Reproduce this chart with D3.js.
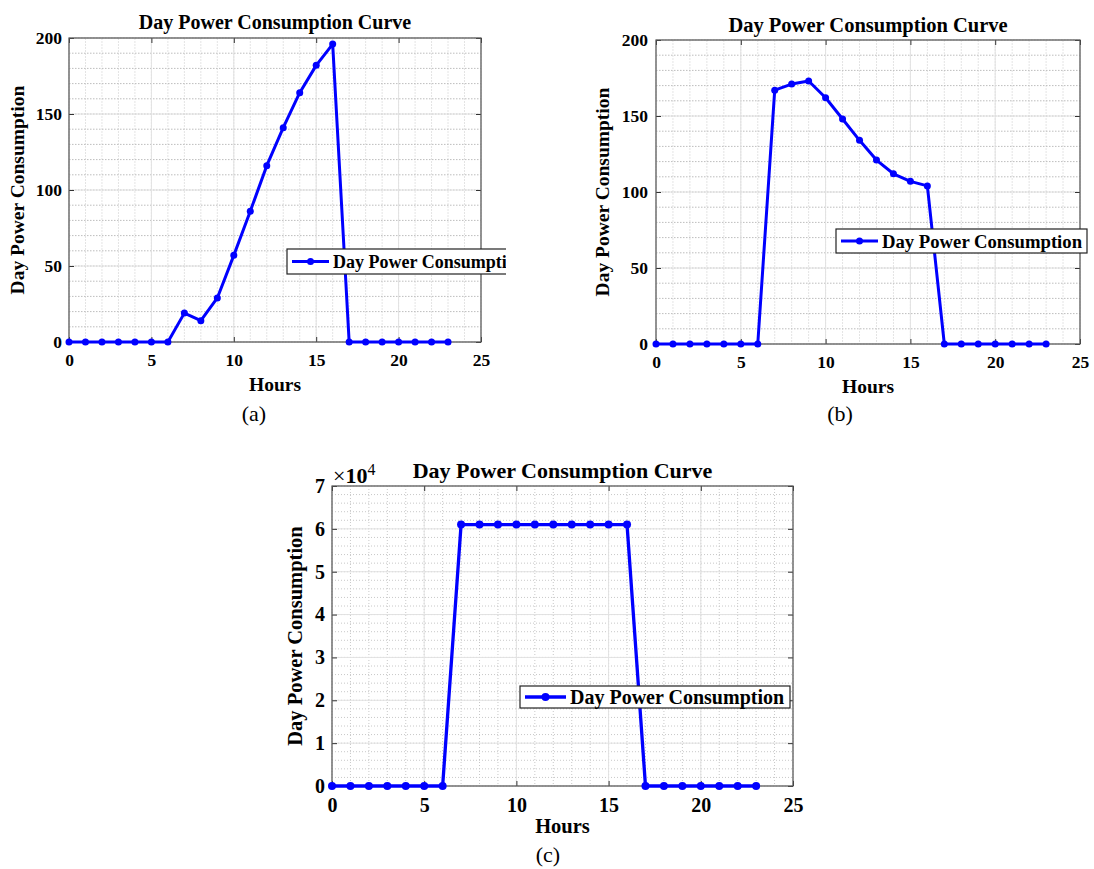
<!DOCTYPE html>
<html>
<head>
<meta charset="utf-8">
<script src="https://cdn.jsdelivr.net/npm/d3@7"></script>
<style>
  html, body { margin: 0; padding: 0; background: #fff; }
  svg { display: block; font-family: "Times New Roman", "Liberation Serif", serif; }
</style>
</head>
<body>
<svg id="fig" width="1094" height="869"></svg>
<script>
// hours of the day (x values)
const hours = [0, 1, 2, 3, 4, 5, 6, 7, 8, 9, 10, 11, 12, 13, 14, 15, 16, 17, 18, 19, 20, 21, 22, 23];

// day power consumption
const powerA = [0, 0, 0, 0, 0, 0, 0, 19, 14, 29, 57, 86, 116, 141, 164, 182, 196, 0, 0, 0, 0, 0, 0, 0];
const powerB = [0, 0, 0, 0, 0, 0, 0, 167, 171, 173, 162, 148, 134, 121, 112, 107, 104, 0, 0, 0, 0, 0, 0, 0];
const powerC = [0, 0, 0, 0, 0, 0, 0, 61000, 61000, 61000, 61000, 61000, 61000, 61000, 61000, 61000, 61000, 0, 0, 0, 0, 0, 0, 0];

const xTicks = [0, 5, 10, 15, 20, 25];
const yTicksAB = [0, 50, 100, 150, 200];
const yTicksC = [0, 10000, 20000, 30000, 40000, 50000, 60000, 70000];

const titleText = "Day Power Consumption Curve";
const xLabel = "Hours";
const yLabel = "Day Power Consumption";
const legendText = "Day Power Consumption";

const svg = d3.select("#fig");
let clipId = 0;

function drawPanel(p) {
  const x = d3.scaleLinear().domain([0, 25]).range([p.left, p.right]);
  const y = d3.scaleLinear().domain([0, p.yMax]).range([p.bottom, p.top]);
  const g = svg.append("g");

  // minor grid
  const xMinor = d3.range(0, 25 + 1e-9, p.xMinorStep);
  const yMinor = d3.range(0, p.yMax + 1e-9, p.yMinorStep);
  g.append("g").selectAll("line").data(xMinor).join("line")
    .attr("x1", d => x(d)).attr("x2", d => x(d))
    .attr("y1", p.top).attr("y2", p.bottom)
    .attr("stroke", p.vGridColor).attr("stroke-width", 1)
    .attr("stroke-dasharray", p.vDash);
  g.append("g").selectAll("line").data(yMinor).join("line")
    .attr("x1", p.left).attr("x2", p.right)
    .attr("y1", d => y(d)).attr("y2", d => y(d))
    .attr("stroke", p.hGridColor).attr("stroke-width", 1)
    .attr("stroke-dasharray", p.hDash);

  // major grid
  g.append("g").selectAll("line").data(xTicks).join("line")
    .attr("x1", d => x(d)).attr("x2", d => x(d))
    .attr("y1", p.top).attr("y2", p.bottom)
    .attr("stroke", "#e2e2e2").attr("stroke-width", 1);
  g.append("g").selectAll("line").data(p.yTicks).join("line")
    .attr("x1", p.left).attr("x2", p.right)
    .attr("y1", d => y(d)).attr("y2", d => y(d))
    .attr("stroke", "#e2e2e2").attr("stroke-width", 1);

  // axes with inward ticks, on all four sides
  const fmt = p.tickFormat || (d => d);
  const bottomAxis = g.append("g").attr("transform", `translate(0,${p.bottom})`)
    .call(d3.axisBottom(x).tickValues(xTicks).tickSize(-5).tickPadding(p.xTickPad).tickFormat(d => d));
  const leftAxis = g.append("g").attr("transform", `translate(${p.left},0)`)
    .call(d3.axisLeft(y).tickValues(p.yTicks).tickSize(-5).tickPadding(p.yTickPad).tickFormat(fmt));
  g.append("g").attr("transform", `translate(0,${p.top})`)
    .call(d3.axisTop(x).tickValues(xTicks).tickSize(-5).tickFormat(""));
  g.append("g").attr("transform", `translate(${p.right},0)`)
    .call(d3.axisRight(y).tickValues(p.yTicks).tickSize(-5).tickFormat(""));

  g.selectAll(".domain").remove();
  g.selectAll(".tick line").attr("stroke", "#333").attr("stroke-width", 1);
  [bottomAxis, leftAxis].forEach(a => a.selectAll("text")
    .attr("fill", "#000")
    .style("font-family", '"Times New Roman", "Liberation Serif", serif')
    .style("font-weight", "bold")
    .style("font-size", p.tickFont + "px"));

  // box
  g.append("rect")
    .attr("x", p.left).attr("y", p.top)
    .attr("width", p.right - p.left).attr("height", p.bottom - p.top)
    .attr("fill", "none").attr("stroke", "#555").attr("stroke-width", 1.2);

  // data line + markers
  const pts = hours.map((h, i) => [h, p.values[i]]);
  const line = d3.line().x(d => x(d[0])).y(d => y(d[1]));
  g.append("path").datum(pts)
    .attr("d", line)
    .attr("fill", "none").attr("stroke", "#0000ff")
    .attr("stroke-width", p.lineWidth).attr("stroke-linejoin", "round");
  g.append("g").selectAll("circle").data(pts).join("circle")
    .attr("cx", d => x(d[0])).attr("cy", d => y(d[1]))
    .attr("r", p.markerR).attr("fill", "#0000ff");

  // title
  g.append("text")
    .attr("x", (p.left + p.right) / 2).attr("y", p.titleY)
    .attr("text-anchor", "middle")
    .style("font-weight", "bold").style("font-size", p.titleFont + "px")
    .text(titleText);

  // axis labels
  g.append("text")
    .attr("x", (p.left + p.right) / 2).attr("y", p.xLabelY)
    .attr("text-anchor", "middle")
    .style("font-weight", "bold").style("font-size", p.labelFont + "px")
    .text(xLabel);
  g.append("text")
    .attr("transform", `translate(${p.yLabelX},${(p.top + p.bottom) / 2}) rotate(-90)`)
    .attr("text-anchor", "middle")
    .style("font-weight", "bold").style("font-size", p.labelFont + "px")
    .text(yLabel);

  // legend (clipped where the original figure is cropped)
  const lg = g.append("g");
  if (p.clipRight) {
    const id = "clip" + (clipId++);
    svg.append("clipPath").attr("id", id).append("rect")
      .attr("x", 0).attr("y", 0).attr("width", p.clipRight).attr("height", 869);
    lg.attr("clip-path", `url(#${id})`);
  }
  const lb = p.legend;
  lg.append("rect")
    .attr("x", lb.x).attr("y", lb.y).attr("width", lb.w).attr("height", lb.h)
    .attr("fill", "#fff").attr("stroke", "#222").attr("stroke-width", 1.2);
  const ly = lb.y + lb.h / 2;
  lg.append("line")
    .attr("x1", lb.x + 5).attr("x2", lb.x + lb.lineLen + 5)
    .attr("y1", ly).attr("y2", ly)
    .attr("stroke", "#0000ff").attr("stroke-width", p.lineWidth);
  lg.append("circle")
    .attr("cx", lb.x + 5 + lb.lineLen / 2).attr("cy", ly)
    .attr("r", p.markerR).attr("fill", "#0000ff");
  lg.append("text")
    .attr("x", lb.x + lb.lineLen + 9).attr("y", ly).attr("dy", "0.35em")
    .style("font-weight", "bold").style("font-size", lb.font + "px")
    .text(legendText);

  // exponent label
  if (p.exponent) {
    const t = g.append("text")
      .attr("x", p.exponent.x).attr("y", p.exponent.y)
      .style("font-size", p.exponent.font + "px");
    t.append("tspan").text("\u00d7");
    t.append("tspan").style("font-weight", "bold").text("10");
    t.append("tspan").attr("dy", "-0.5em").style("font-size", (p.exponent.font * 0.72) + "px").text("4");
  }

  // subfigure caption
  svg.append("text")
    .attr("x", p.caption.x).attr("y", p.caption.y)
    .attr("text-anchor", "middle")
    .style("font-size", "22px")
    .text(p.caption.text);
}

drawPanel({
  values: powerA, left: 69, right: 481, top: 38, bottom: 342,
  yMax: 200, yTicks: yTicksAB, xMinorStep: 1, yMinorStep: 10,
  vGridColor: "#e4e4e4", vDash: "2,1", hGridColor: "#bdbdbd", hDash: "1.5,1.5",
  tickFont: 17.5, xTickPad: 12, yTickPad: 7, labelFont: 19.5, titleFont: 20, titleY: 29,
  xLabelY: 391, yLabelX: 24, lineWidth: 3, markerR: 3.5,
  legend: { x: 287, y: 249, w: 232, h: 25, lineLen: 37, font: 18 }, clipRight: 506,
  caption: { x: 254, y: 421, text: "(a)" }
});

drawPanel({
  values: powerB, left: 656, right: 1080, top: 40, bottom: 344,
  yMax: 200, yTicks: yTicksAB, xMinorStep: 1, yMinorStep: 10,
  vGridColor: "#e4e4e4", vDash: "2,1", hGridColor: "#bdbdbd", hDash: "1.5,1.5",
  tickFont: 17.5, xTickPad: 12, yTickPad: 8, labelFont: 19.5, titleFont: 20.5, titleY: 32,
  xLabelY: 393, yLabelX: 609, lineWidth: 3, markerR: 3.5,
  legend: { x: 836, y: 229, w: 251, h: 24, lineLen: 37, font: 18.7 },
  caption: { x: 840, y: 421, text: "(b)" }
});

drawPanel({
  values: powerC, left: 332, right: 793, top: 486, bottom: 786,
  yMax: 70000, yTicks: yTicksC, xMinorStep: 1, yMinorStep: 2000,
  vGridColor: "#c8c8c8", vDash: "1,2", hGridColor: "#c8c8c8", hDash: "1,2",
  tickFormat: d => d / 10000,
  tickFont: 20, xTickPad: 12, yTickPad: 7, labelFont: 20.5, titleFont: 22, titleY: 478,
  xLabelY: 833, yLabelX: 302, lineWidth: 3.3, markerR: 4,
  legend: { x: 520, y: 686, w: 270, h: 22, lineLen: 41, font: 20 },
  exponent: { x: 333, y: 483, font: 22 },
  caption: { x: 548, y: 862, text: "(c)" }
});
</script>
</body>
</html>
